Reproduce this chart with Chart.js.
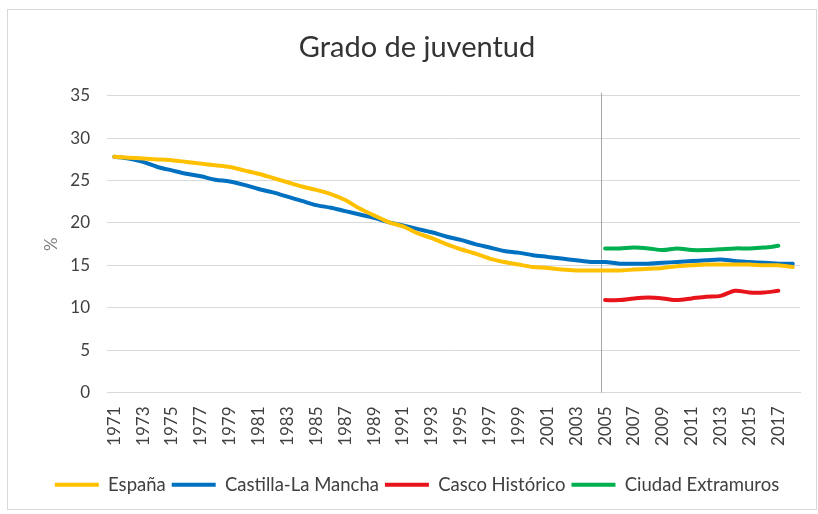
<!DOCTYPE html>
<html>
<head>
<meta charset="utf-8">
<script src="https://cdn.jsdelivr.net/npm/chart.js@4.4.1/dist/chart.umd.min.js"></script>
<style>
  html, body { margin: 0; padding: 0; background: #fff; }
  #wrap { width: 818px; height: 514px; position: relative; }
</style>
</head>
<body>
<div id="wrap"><canvas id="chartjuventud"></canvas></div>
<script>
var years = [];
for (var y = 1971; y <= 2018; y++) years.push(String(y));

var espana = [27.8, 27.7, 27.6, 27.5, 27.4, 27.2, 27.0, 26.8, 26.6, 26.2,
              25.8, 25.3, 24.8, 24.3, 23.9, 23.4, 22.7, 21.7, 20.9, 20.1,
              19.6, 18.8, 18.2, 17.5, 16.9, 16.4, 15.8, 15.4, 15.1, 14.8,
              14.7, 14.5, 14.4, 14.4, 14.4, 14.4, 14.5, 14.6, 14.7, 14.9,
              15.0, 15.1, 15.1, 15.1, 15.1, 15.0, 15.0, 14.8];
var castilla = [27.8, 27.6, 27.2, 26.6, 26.2, 25.8, 25.5, 25.1, 24.9, 24.5,
                24.0, 23.6, 23.1, 22.6, 22.1, 21.8, 21.4, 21.0, 20.6, 20.1,
                19.7, 19.3, 18.9, 18.4, 18.0, 17.5, 17.1, 16.7, 16.5, 16.2,
                16.0, 15.8, 15.6, 15.4, 15.4, 15.2, 15.2, 15.2, 15.3, 15.4,
                15.5, 15.6, 15.7, 15.5, 15.4, 15.3, 15.2, 15.2];
// 2005-2017 only
var cascoHist = [10.9, 10.9, 11.1, 11.2, 11.1, 10.9, 11.1, 11.3, 11.4, 12.0, 11.8, 11.8, 12.0];
var extramuros = [17.0, 17.0, 17.1, 17.0, 16.8, 17.0, 16.8, 16.8, 16.9, 17.0, 17.0, 17.1, 17.3];
var yTicks = [0, 5, 10, 15, 20, 25, 30, 35];

function padFrom(startYear, arr) {
  var out = [];
  for (var i = 0; i < years.length; i++) {
    var k = i - (startYear - 1971);
    out.push(k >= 0 && k < arr.length ? arr[k] : null);
  }
  return out;
}

var fontFam = 'Lato, "Open Sans", sans-serif';

const extras = {
  id: 'extras',
  beforeDraw(chart) {
    const ctx = chart.ctx;
    ctx.save();
    ctx.strokeStyle = '#d9d9d9';
    ctx.lineWidth = 1;
    ctx.strokeRect(7.5, 9.5, 809, 500);
    ctx.restore();
  },
  beforeDatasetsDraw(chart) {
    const { ctx, chartArea: { top, bottom }, scales: { x } } = chart;
    const X = Math.round(x.getPixelForValue(years.indexOf('2005'))) - 3.5;
    ctx.save();
    ctx.strokeStyle = '#a6a6a6';
    ctx.lineWidth = 1;
    ctx.beginPath();
    ctx.moveTo(X, top - 3);
    ctx.lineTo(X, bottom);
    ctx.stroke();
    ctx.restore();
  }
};

var ctxj = document.getElementById('chartjuventud').getContext('2d');
var chartj = new Chart(ctxj, {
  type: 'line',
  data: {
    labels: years,
    datasets: [
      { label: 'España', data: espana, borderColor: '#FFC000', backgroundColor: '#FFC000' },
      { label: 'Castilla-La Mancha', data: castilla, borderColor: '#0070C0', backgroundColor: '#0070C0' },
      { label: 'Casco Histórico', data: padFrom(2005, cascoHist), borderColor: '#E8141B', backgroundColor: '#E8141B' },
      { label: 'Ciudad Extramuros', data: padFrom(2005, extramuros), borderColor: '#00B050', backgroundColor: '#00B050' }
    ]
  },
  options: {
    responsive: true,
    maintainAspectRatio: false,
    animation: false,
    elements: {
      point: { radius: 0 },
      line: { borderWidth: 4, tension: 0.3, borderCapStyle: 'round', borderJoinStyle: 'round' }
    },
    layout: { padding: { left: 34, right: 18, top: 30, bottom: 10 } },
    plugins: {
      tooltip: { enabled: false },
      title: {
        display: true,
        text: 'Grado de juventud',
        color: '#333333',
        font: { family: fontFam, size: 29, weight: 'normal' },
        padding: { top: 0, bottom: 31 }
      },
      legend: {
        position: 'bottom',
        labels: {
          color: '#404040',
          font: { family: fontFam, size: 18.5 },
          boxWidth: 44,
          boxHeight: 4,
          padding: 6,
          generateLabels(chart) {
            return chart.data.datasets.map(function (ds, i) {
              return {
                text: ds.label,
                fillStyle: ds.borderColor,
                strokeStyle: ds.borderColor,
                lineWidth: 0,
                fontColor: '#404040',
                hidden: false,
                datasetIndex: i
              };
            });
          }
        }
      }
    },
    scales: {
      x: {
        offset: true,
        afterFit: function (s) { s.height = 77; s.paddingLeft = 0; s.paddingRight = 0; },
        grid: { display: false, drawTicks: false },
        border: { color: '#d9d9d9' },
        ticks: {
          autoSkip: false,
          maxRotation: 90,
          minRotation: 90,
          color: '#404040',
          font: { family: fontFam, size: 17 },
          padding: 14,
          callback: function (v, i) { return i % 2 === 0 ? years[i] : ''; }
        }
      },
      y: {
        min: 0,
        max: 35,
        afterBuildTicks: function (s) { s.ticks = yTicks.map(function (v) { return { value: v }; }); },
        afterFit: function (s) { s.width = 73; },
        grid: { color: '#d9d9d9', drawTicks: false },
        border: { display: false },
        ticks: {
          color: '#404040',
          font: { family: fontFam, size: 17 },
          padding: 17
        },
        title: {
          display: true,
          text: '%',
          color: '#7f7f7f',
          font: { family: fontFam, size: 17 },
          padding: { top: 7, bottom: 0 }
        }
      }
    }
  },
  plugins: [extras]
});
</script>
</body>
</html>
